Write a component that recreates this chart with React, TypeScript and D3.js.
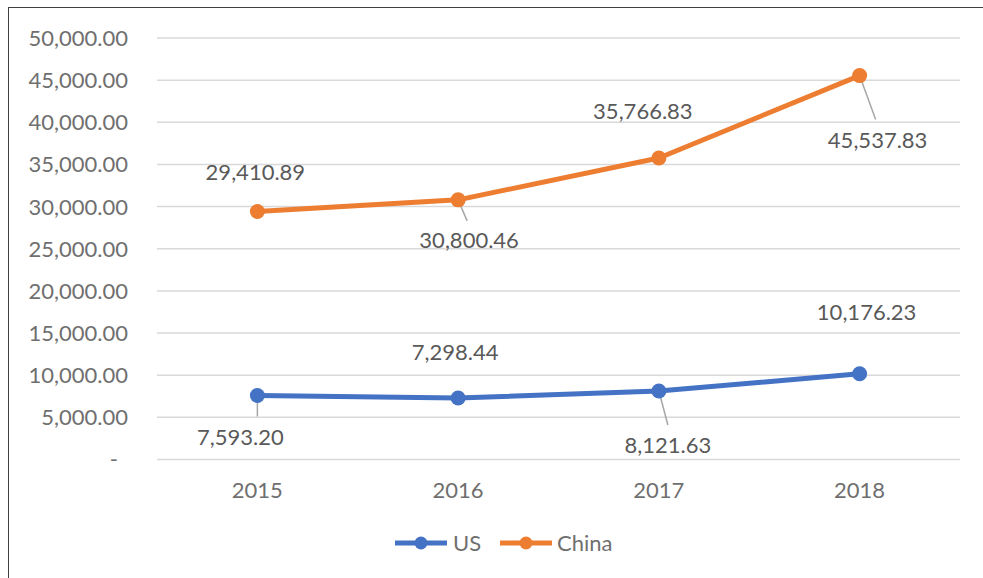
import React from 'react'
import * as d3 from 'd3'

// chart data
const years = ['2015', '2016', '2017', '2018']
const usValues = [7593.20, 7298.44, 8121.63, 10176.23]
const chinaValues = [29410.89, 30800.46, 35766.83, 45537.83]
const yTicks = [0, 5000, 10000, 15000, 20000, 25000, 30000, 35000, 40000, 45000, 50000]

// label placement relative to the point (dx, dy) and optional leader end
const usLabelPos = [
  { dx: -17, dy: 50, lx: 0, ly: 21 },
  { dx: -3, dy: -38 },
  { dx: 9, dy: 62, lx: 9, ly: 34 },
  { dx: 7, dy: -54 },
]
const chinaLabelPos = [
  { dx: -2, dy: -32 },
  { dx: 11, dy: 48, lx: 9, ly: 21 },
  { dx: -16, dy: -39 },
  { dx: 18, dy: 72, lx: 16, ly: 44 },
]

const W = 983
const H = 578
const FONT = 'Lato, "Open Sans", sans-serif'
const AXIS_TEXT = '#6f6f6f'
const LABEL_TEXT = '#595959'
const BLUE = '#4472C4'
const ORANGE = '#ED7D31'

export default function App() {
  const x = d3.scaleBand().domain(years).range([157, 960])
  const y = d3.scaleLinear().domain([0, 50000]).range([459.5, 38])
  const cx = (d: string) => (x(d) as number) + x.bandwidth() / 2
  const fmt = d3.format(',.2f')

  const line = d3.line<number>()
    .x((d, i) => cx(years[i]))
    .y(d => y(d))

  const series = [
    { name: 'US', values: usValues, color: BLUE, pos: usLabelPos },
    { name: 'China', values: chinaValues, color: ORANGE, pos: chinaLabelPos },
  ]

  return (
    <svg width={W} height={H} style={{ position: 'absolute', left: 0, top: 0, background: '#fff' }}
      fontFamily={FONT}>
      <rect x={8.5} y={7.5} width={1000} height={620} fill="#fff" stroke="#404040" strokeWidth={1} />

      {/* grid + y axis */}
      {yTicks.map(t => (
        <g key={t}>
          <line x1={157} x2={960} y1={y(t)} y2={y(t)} stroke="#d9d9d9" strokeWidth={1.5} />
          <text x={t === 0 ? 118 : 128} y={y(t)} dy="0.36em" textAnchor="end"
            fontSize={22} fill={AXIS_TEXT}>{t === 0 ? '-' : fmt(t)}</text>
        </g>
      ))}

      {/* x axis labels */}
      {years.map(d => (
        <text key={d} x={cx(d)} y={498} textAnchor="middle" fontSize={22} fill={AXIS_TEXT}>{d}</text>
      ))}

      {/* leader lines */}
      {series.map(s => s.values.map((v, i) => {
        const p = s.pos[i] as any
        if (p.lx === undefined) return null
        const px = cx(years[i]), py = y(v)
        return <line key={s.name + i} x1={px} y1={py} x2={px + p.lx} y2={py + p.ly}
          stroke="#a6a6a6" strokeWidth={1.5} />
      }))}

      {/* lines and markers */}
      {series.map(s => (
        <g key={s.name}>
          <path d={line(s.values) as string} fill="none" stroke={s.color} strokeWidth={5}
            strokeLinejoin="round" strokeLinecap="round" />
          {s.values.map((v, i) => (
            <circle key={i} cx={cx(years[i])} cy={y(v)} r={7.5} fill={s.color} />
          ))}
        </g>
      ))}

      {/* data labels */}
      {series.map(s => s.values.map((v, i) => (
        <text key={s.name + 'l' + i} x={cx(years[i]) + s.pos[i].dx} y={y(v) + s.pos[i].dy}
          textAnchor="middle" fontSize={22} fill={LABEL_TEXT}>{fmt(v)}</text>
      )))}

      {/* legend */}
      <g>
        <line x1={395} x2={447} y1={543} y2={543} stroke={BLUE} strokeWidth={5} />
        <circle cx={421} cy={543} r={6.5} fill={BLUE} />
        <text x={453} y={543} dy="0.36em" fontSize={22} fill={AXIS_TEXT}>US</text>
        <line x1={500} x2={552} y1={543} y2={543} stroke={ORANGE} strokeWidth={5} />
        <circle cx={526} cy={543} r={6.5} fill={ORANGE} />
        <text x={557} y={543} dy="0.36em" fontSize={22} fill={AXIS_TEXT}>China</text>
      </g>
    </svg>
  )
}
